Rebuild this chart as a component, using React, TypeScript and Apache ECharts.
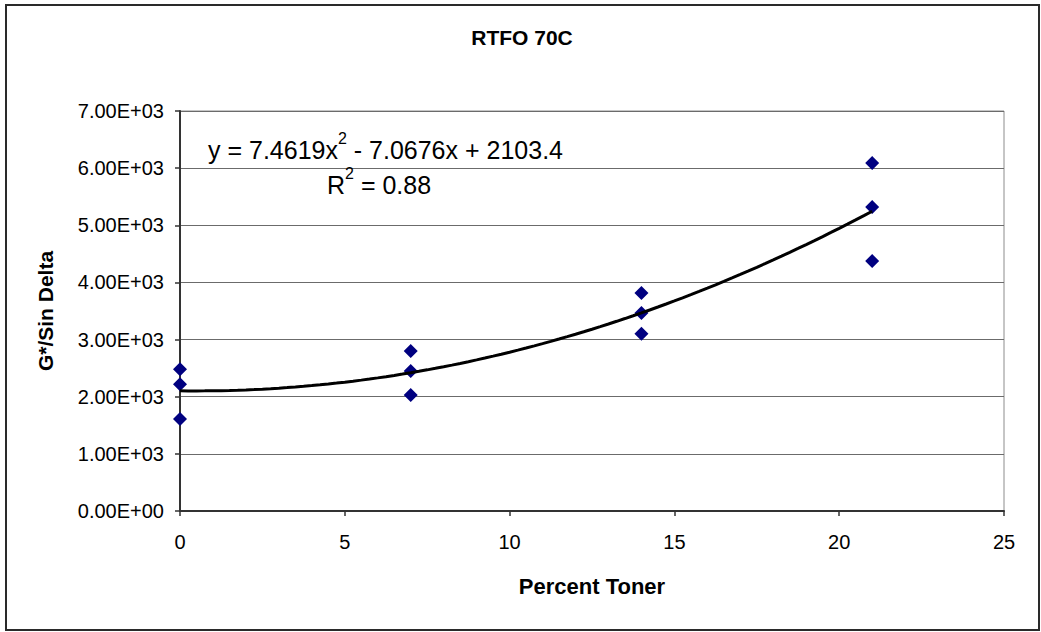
import React, { useEffect, useRef } from "react";
import * as echarts from "echarts";

const chartTitle = "RTFO 70C";
const xAxisName = "Percent Toner";
const yAxisName = "G*/Sin Delta";
const xTickValues = [0, 5, 10, 15, 20, 25];
const yTickLabels = ["0.00E+00", "1.00E+03", "2.00E+03", "3.00E+03", "4.00E+03", "5.00E+03", "6.00E+03", "7.00E+03"];
const tonerPercent = [0, 0, 0, 7, 7, 7, 14, 14, 14, 21, 21, 21];
const gStarSinDelta = [2480, 2220, 1610, 2800, 2450, 2030, 3815, 3465, 3100, 6090, 5320, 4375];
// Excel polynomial trendline, as printed on the chart: y = a x^2 + b x + c
const trendCoefficients = [7.4619, -7.0676, 2103.4];
const trendXRange = [0, 21];
const rSquared = "0.88";

export default function App() {
  const ref = useRef<HTMLDivElement>(null);
  useEffect(() => {
    document.body.style.margin = "0";
    const chart = echarts.init(ref.current!, null, { renderer: "svg" });
    const [a, b, c] = trendCoefficients;
    const trend: number[][] = [];
    for (let x = trendXRange[0]; x <= trendXRange[1] + 1e-9; x += 0.25) {
      trend.push([x, a * x * x + b * x + c]);
    }
    const font = "'Liberation Sans', Arial, sans-serif";
    const eqRich = {
      n: { fontFamily: font, fontSize: 25, color: "#000", lineHeight: 32, verticalAlign: "bottom" },
      s: { fontFamily: font, fontSize: 16, color: "#000", lineHeight: 32, verticalAlign: "top" },
    };
    chart.setOption({
      animation: false,
      backgroundColor: "#ffffff",
      title: {
        text: chartTitle,
        left: 522,
        top: 27,
        padding: 0,
        textAlign: "center",
        textStyle: { fontFamily: font, fontSize: 21, fontWeight: "bold", color: "#000" },
      },
      grid: {
        left: 180,
        top: 111,
        right: 37,
        bottom: 121,
        show: true,
        borderColor: "#8c8c8c",
        borderWidth: 1,
        backgroundColor: "#fff",
      },
      xAxis: {
        type: "value",
        min: 0,
        max: 25,
        interval: 5,
        name: xAxisName,
        nameLocation: "middle",
        nameGap: 64,
        nameTextStyle: { fontFamily: font, fontSize: 22, fontWeight: "bold", color: "#000" },
        axisLine: { show: true, onZero: false, lineStyle: { color: "#333", width: 2 } },
        axisTick: { show: true, length: 5, lineStyle: { color: "#333", width: 1.5 } },
        axisLabel: {
          margin: 21,
          fontFamily: font,
          fontSize: 20,
          color: "#000",
          formatter: (v: number) => (xTickValues.includes(v) ? String(v) : ""),
        },
        splitLine: { show: false },
      },
      yAxis: {
        type: "value",
        min: 0,
        max: 7000,
        interval: 1000,
        name: yAxisName,
        nameLocation: "middle",
        nameGap: 124,
        nameRotate: 90,
        nameTextStyle: { fontFamily: font, fontSize: 21, fontWeight: "bold", color: "#000" },
        axisLine: { show: true, lineStyle: { color: "#333", width: 2 } },
        axisTick: { show: true, length: 5, lineStyle: { color: "#333", width: 1.5 } },
        axisLabel: {
          margin: 16,
          fontFamily: font,
          fontSize: 20,
          color: "#000",
          formatter: (v: number) => yTickLabels[Math.round(v / 1000)] ?? "",
        },
        splitLine: { show: true, lineStyle: { color: "#6b6b6b", width: 1 } },
      },
      series: [
        {
          type: "scatter",
          data: tonerPercent.map((x, i) => [x, gStarSinDelta[i]]),
          symbol: "diamond",
          symbolSize: 14,
          clip: false,
          itemStyle: { color: "#000080", opacity: 1 },
          z: 3,
        },
        {
          type: "line",
          data: trend,
          showSymbol: false,
          symbol: "none",
          smooth: false,
          clip: false,
          lineStyle: { color: "#000", width: 3 },
          z: 4,
        },
      ],
      graphic: [
        {
          type: "rect",
          shape: { x: 6, y: 5, width: 1033, height: 625 },
          style: { fill: "none", stroke: "#2a2a2a", lineWidth: 2 },
          silent: true,
          z: 100,
        },
        {
          type: "text",
          left: 208,
          top: 130,
          style: {
            text: "{n|y = " + a + "x}{s|2}{n| - " + Math.abs(b) + "x + " + c + "}",
            rich: eqRich,
          },
          z: 50,
        },
        {
          type: "text",
          left: 327,
          top: 165,
          style: {
            text: "{n|R}{s|2}{n| = " + rSquared + "}",
            rich: eqRich,
          },
          z: 50,
        },
      ],
    });
    return () => chart.dispose();
  }, []);
  return (
    <div
      ref={ref}
      style={{ position: "absolute", left: 0, top: 0, width: 1041, height: 632 }}
    />
  );
}
